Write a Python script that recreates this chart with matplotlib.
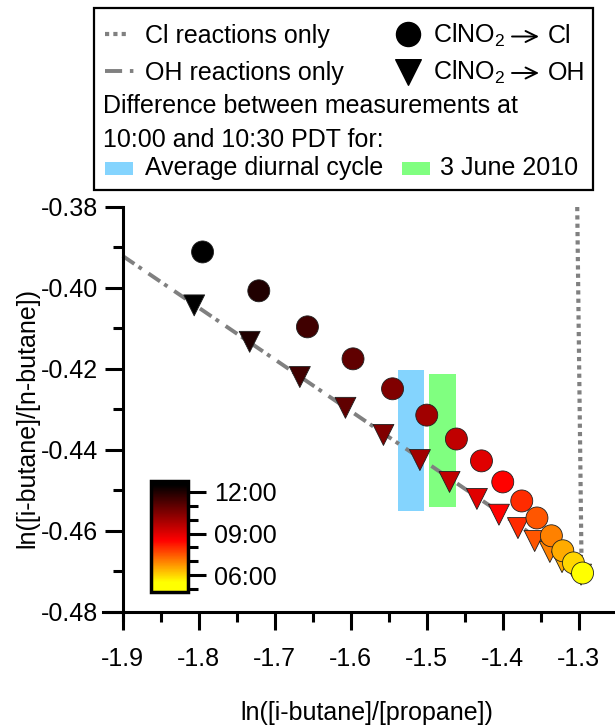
import numpy as np
import matplotlib
matplotlib.use('Agg')
import matplotlib.pyplot as plt
from matplotlib.colors import LinearSegmentedColormap, Normalize
from matplotlib.patches import Rectangle

plt.rcParams['font.family'] = ['Liberation Sans', 'DejaVu Sans']
plt.rcParams['font.size'] = 18
plt.rcParams['axes.unicode_minus'] = False
plt.rcParams['mathtext.fontset'] = 'custom'
plt.rcParams['mathtext.rm'] = 'Liberation Sans'
plt.rcParams['mathtext.default'] = 'regular'

# hour of day of each point, 12:30 back to 05:30
hours = [12.5, 12.0, 11.5, 11.0, 10.5, 10.0, 9.5, 9.0, 8.5, 8.0, 7.5, 7.0, 6.5, 6.0, 5.5]

# ClNO2 -> Cl (circles)
cl_x = [-1.795, -1.721, -1.657, -1.597, -1.545, -1.500, -1.461, -1.428,
        -1.400, -1.375, -1.355, -1.336, -1.321, -1.307, -1.295]
cl_y = [-0.3911, -0.4007, -0.4096, -0.4175, -0.4249, -0.4314, -0.4373, -0.4427,
        -0.4479, -0.4526, -0.4568, -0.4612, -0.4649, -0.4679, -0.4704]

# ClNO2 -> OH (triangles)
oh_x = [-1.806, -1.733, -1.667, -1.607, -1.557, -1.509, -1.470, -1.434,
        -1.405, -1.380, -1.358, -1.338, -1.322, -1.309, -1.297]
oh_y = [-0.4043, -0.4133, -0.4220, -0.4296, -0.4363, -0.4425, -0.4479, -0.4521,
        -0.4560, -0.4593, -0.4625, -0.4652, -0.4677, -0.4686, -0.4708]

# reaction-only lines
ohline_x = [-1.90, -1.33]
ohline_y = [-0.3921, -0.4649]
clline_x = [-1.302, -1.2965]
clline_y = [-0.38, -0.4655]

# 10:00 -> 10:30 difference bands
band_x0 = [-1.538, -1.497]
band_x1 = [-1.503, -1.461]
band_y0 = [-0.4551, -0.4541]
band_y1 = [-0.4202, -0.4212]
band_colors = ['#84D4FE', '#80FF80']

xticks = [-1.9, -1.8, -1.7, -1.6, -1.5, -1.4, -1.3]
yticks = [-0.48, -0.46, -0.44, -0.42, -0.40, -0.38]

vmin, vmax = 4.79, 12.79
def frac(h):
    return (h - vmin) / (vmax - vmin)
cmap = LinearSegmentedColormap.from_list('tod', [
    (0.0, '#FFFF00'), (frac(5.5), '#FFFF00'), (frac(8.5), '#FF0000'),
    (frac(12.5), '#000000'), (1.0, '#000000')])
norm = Normalize(vmin, vmax)

W, H = 615, 726
fig = plt.figure(figsize=(W / 100, H / 100), dpi=100)
ax = fig.add_axes([103 / W, (H - 620) / H, 512 / W, 413 / H])

for x0, x1, y0, y1, c in zip(band_x0, band_x1, band_y0, band_y1, band_colors):
    ax.fill_between([x0, x1], [y0, y0], [y1, y1], color=c, lw=0, zorder=1)

dashdot = (0, (3.6, 1.3, 1.0, 2.1))
ax.plot(ohline_x, ohline_y, color='#808080', lw=2.8, ls=dashdot, zorder=2)
ax.plot(clline_x, clline_y, color='#808080', lw=3, ls=(0, (1, 1)), zorder=2)

ax.scatter(oh_x, oh_y, c=hours, cmap=cmap, norm=norm, marker='v', s=228,
           edgecolors='#202020', linewidths=0.6, zorder=3)
sc = ax.scatter(cl_x, cl_y, c=hours, cmap=cmap, norm=norm, marker='o', s=250,
                edgecolors='#202020', linewidths=0.6, zorder=4)

ax.set_xlim(-1.926, -1.2523)
ax.set_ylim(-0.482, -0.38)
ax.spines['top'].set_visible(False)
ax.spines['right'].set_visible(False)
ax.spines['left'].set_position(('data', -1.9))
ax.spines['bottom'].set_position(('data', -0.48))
for s in ['left', 'bottom']:
    ax.spines[s].set_linewidth(2.2)
ax.set_xticks(xticks)
ax.set_xticklabels(['%.1f' % v for v in xticks])
ax.set_xticks([-1.85, -1.75, -1.65, -1.55, -1.45, -1.35], minor=True)
ax.set_yticks(yticks)
ax.set_yticklabels(['%.2f' % v for v in yticks])
ax.set_yticks([-0.47, -0.45, -0.43, -0.41, -0.39], minor=True)
ax.tick_params(which='major', direction='out', length=13, width=2.2)
ax.tick_params(which='minor', direction='out', length=7, width=2.2)
ax.tick_params(axis='x', which='major', pad=12)
ax.tick_params(axis='y', which='major', pad=5)

ax.set_xlabel('ln([i-butane]/[propane])', va='center')
ax.xaxis.set_label_coords(0.516, -0.225)
ax.set_ylabel('ln([i-butane]/[n-butane])', va='center')
ax.yaxis.set_label_coords(-0.148, 0.489)

# colour bar for time of day
cax = fig.add_axes([151 / W, (H - 592) / H, 37 / W, 111 / H])
cb = fig.colorbar(sc, cax=cax, ticks=[6, 9, 12])
cb.set_ticklabels(['06:00', '09:00', '12:00'])
cb.set_ticks([5, 7, 8, 10, 11], minor=True)
cb.outline.set_linewidth(2.5)
cax.tick_params(which='major', length=13, width=2.2, pad=6)
cax.tick_params(which='minor', length=7, width=2.2)

# legend box drawn in pixel space
lax = fig.add_axes([0, 0, 1, 1], zorder=5)
lax.set_xlim(0, W)
lax.set_ylim(H, 0)
lax.axis('off')
lax.add_patch(Rectangle((94, 8), 499, 182, fill=False, lw=1.6, edgecolor='black'))
lax.plot([105, 129], [34, 34], color='#808080', lw=3, ls=(0, (1, 1)))
lax.plot([105, 134], [71, 71], color='#808080', lw=2.8, ls=(0, (4.4, 2.0, 0.9, 5)))
lax.scatter([408], [34], s=300, marker='o', color='black')
lax.scatter([408], [72], s=340, marker='v', color='black')
lax.text(145, 43.3, 'Cl reactions only', va='baseline')
lax.text(145, 80, 'OH reactions only', va='baseline')
for yb, ya, prod in [(43.3, 36.5, 'Cl'), (80, 73, 'OH')]:
    lax.text(433, yb, 'ClNO$_2$', va='baseline')
    lax.annotate('', xy=(539, ya), xytext=(512, ya),
                 arrowprops=dict(arrowstyle='->,head_length=0.45,head_width=0.22',
                                 lw=1.4, color='black', shrinkA=0, shrinkB=0))
    lax.text(548, yb, prod, va='baseline')
lax.text(103, 113.3, 'Difference between measurements at', va='baseline')
lax.text(103, 146.7, '10:00 and 10:30 PDT for:', va='baseline')
lax.add_patch(Rectangle((105, 162), 28, 13, color=band_colors[0], lw=0))
lax.add_patch(Rectangle((402, 162), 28, 13, color=band_colors[1], lw=0))
lax.text(145, 175, 'Average diurnal cycle', va='baseline')
lax.text(440, 175, '3 June 2010', va='baseline')

fig.savefig('out.png', dpi=100)
